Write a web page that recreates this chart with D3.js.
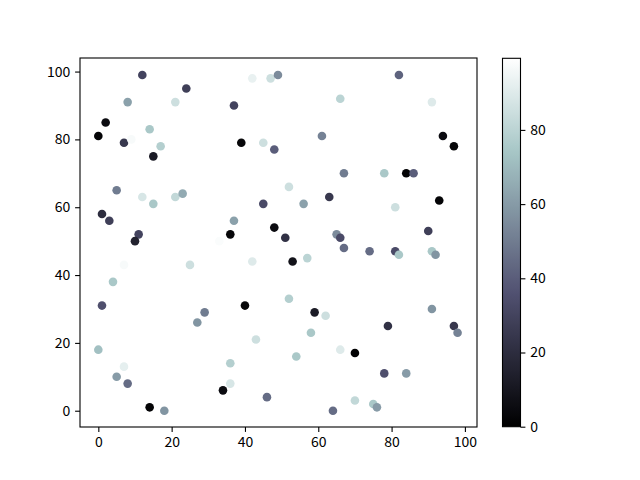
<!DOCTYPE html>
<html><head><meta charset="utf-8">
<script src="https://cdn.jsdelivr.net/npm/d3@7"></script>
<style>
body{margin:0;background:#fff}
text{font-family:"Noto Sans CJK SC","Noto Sans",sans-serif;font-size:14px;fill:#000}
</style>
</head><body>
<svg id="c" width="640" height="480"></svg>
<script>
const xValues=[12,24,8,21,2,14,0,7,9,17,15,42,47,49,37,66,39,45,48,61,67,82,91,94,97,78,84,86,5,12,15,21,23,1,3,11,10,7,25,4,1,52,45,56,63,37,36,48,51,65,66,67,33,42,53,57,52,40,93,81,90,74,81,82,91,92,29,27,0,7,5,8,14,18,59,62,58,43,66,54,36,36,34,46,64,91,79,97,98,70,78,84,70,75,76];
const yValues=[99,95,91,91,85,83,81,79,80,78,75,98,98,99,90,92,79,79,77,81,70,99,91,81,78,70,70,70,65,63,61,63,64,58,56,52,50,43,43,38,31,66,61,61,63,56,52,54,51,52,51,48,50,44,44,45,33,31,62,60,53,47,47,46,47,46,29,26,18,13,10,8,1,0,29,28,23,21,18,16,14,8,6,4,0,30,25,25,23,17,11,11,3,2,1];
const colorValues=[30,28,62,85,5,75,2,25,97,78,12,93,85,55,30,80,3,85,40,52,50,42,90,5,3,75,2,40,50,88,75,82,65,20,28,30,15,97,85,75,35,85,33,62,25,62,3,5,22,55,33,45,98,90,8,80,78,3,2,85,28,45,33,75,75,58,50,58,72,92,60,45,2,58,12,85,75,85,90,75,78,88,5,45,45,58,22,25,52,1,35,60,82,75,60];
const xTicks=[0,20,40,60,80,100];
const yTicks=[0,20,40,60,80,100];
const colorTicks=[0,20,40,60,80];
const colorDomain=[0,99.3];

// matplotlib "bone" colormap
const boneSeg={
  r:[[0,0],[0.746032,0.652778],[1,1]],
  g:[[0,0],[0.365079,0.319444],[0.746032,0.777778],[1,1]],
  b:[[0,0],[0.365079,0.444444],[1,1]]
};
function seg(s,t){
  for(let i=1;i<s.length;i++){
    if(t<=s[i][0]){const a=s[i-1],b=s[i];return a[1]+(b[1]-a[1])*(t-a[0])/(b[0]-a[0]);}
  }
  return s[s.length-1][1];
}
function bone(t){
  t=Math.max(0,Math.min(1,t));
  return d3.rgb(seg(boneSeg.r,t)*255,seg(boneSeg.g,t)*255,seg(boneSeg.b,t)*255).formatHex();
}

const svg=d3.select("#c");
const L=80,R=477,T=58,B=427;
const x=d3.scaleLinear().domain([-5.0,103.3]).range([L,R]);
const y=d3.scaleLinear().domain([-4.8,104.0]).range([B,T]);
const cnorm=d3.scaleLinear().domain(colorDomain).range([0,1]);

const pts=xValues.map((v,i)=>({x:v,y:yValues[i],c:colorValues[i]}));
svg.append("g").selectAll("circle").data(pts).join("circle")
  .attr("cx",d=>x(d.x)).attr("cy",d=>y(d.y)).attr("r",4.3)
  .attr("fill",d=>bone(cnorm(d.c)));

const xa=svg.append("g").attr("transform",`translate(0,${B})`)
  .call(d3.axisBottom(x).tickValues(xTicks).tickSize(4.9).tickPadding(4.9).tickFormat(d3.format("d")));
const ya=svg.append("g").attr("transform",`translate(${L},0)`)
  .call(d3.axisLeft(y).tickValues(yTicks).tickSize(4.9).tickPadding(4.9).tickFormat(d3.format("d")));
[xa,ya].forEach(a=>{a.select(".domain").remove();a.selectAll("line").attr("stroke","#000").attr("stroke-width",1.1);a.selectAll("text").attr("font-size",null).attr("font-family",null);});
svg.append("rect").attr("x",L).attr("y",T).attr("width",R-L).attr("height",B-T)
  .attr("fill","none").attr("stroke","#000").attr("stroke-width",1.1);

// colorbar
const CL=502.5,CR=520.5,CT=58.3,CB=426.7;
const grad=svg.append("defs").append("linearGradient").attr("id","bg")
  .attr("x1",0).attr("y1",1).attr("x2",0).attr("y2",0);
d3.range(0,1.0001,1/64).forEach(t=>grad.append("stop").attr("offset",t).attr("stop-color",bone(t)));
svg.append("rect").attr("x",CL).attr("y",CT).attr("width",CR-CL).attr("height",CB-CT).attr("fill","url(#bg)");
const cy=d3.scaleLinear().domain(colorDomain).range([CB,CT]);
const ca=svg.append("g").attr("transform",`translate(${CR},0)`)
  .call(d3.axisRight(cy).tickValues(colorTicks).tickSize(4.9).tickPadding(4.9).tickFormat(d3.format("d")));
ca.select(".domain").remove();
ca.selectAll("line").attr("stroke","#000").attr("stroke-width",1.1);
ca.selectAll("text").attr("font-size",null).attr("font-family",null);
svg.append("rect").attr("x",CL).attr("y",CT).attr("width",CR-CL).attr("height",CB-CT)
  .attr("fill","none").attr("stroke","#000").attr("stroke-width",1.1);
</script>
</body></html>
